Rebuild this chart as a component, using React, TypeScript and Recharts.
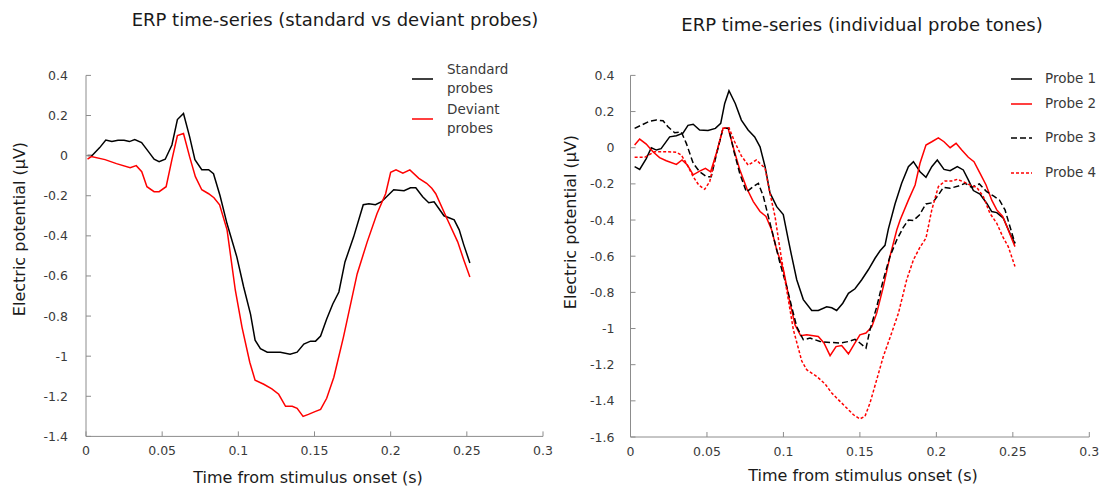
import { LineChart, Line, XAxis, YAxis } from 'recharts';

// ---- axis ticks ----
const timeTicks = [0, 0.05, 0.1, 0.15, 0.2, 0.25, 0.3];
const groupTicks = [-1.4, -1.2, -1, -0.8, -0.6, -0.4, -0.2, 0, 0.2, 0.4];
const probeTicks = [-1.6, -1.4, -1.2, -1, -0.8, -0.6, -0.4, -0.2, 0, 0.2, 0.4];

// ---- standard vs deviant (s, µV) ----
const standardT = [0.001, 0.004, 0.009, 0.013, 0.017, 0.021, 0.025, 0.0285, 0.032, 0.0365, 0.041, 0.0447, 0.048, 0.052, 0.0564, 0.06, 0.064, 0.068, 0.0715, 0.076, 0.0805, 0.0837, 0.088, 0.0926, 0.099, 0.1035, 0.108, 0.111, 0.1145, 0.119, 0.1276, 0.134, 0.1386, 0.143, 0.1474, 0.1507, 0.154, 0.158, 0.162, 0.166, 0.17, 0.1757, 0.182, 0.1857, 0.19, 0.194, 0.202, 0.2088, 0.213, 0.2165, 0.221, 0.225, 0.2285, 0.235, 0.2417, 0.245, 0.248, 0.252];
const standardV = [0, 0, 0.04, 0.078, 0.07, 0.077, 0.077, 0.07, 0.08, 0.065, 0.02, -0.018, -0.03, -0.018, 0.053, 0.18, 0.21, 0.095, -0.02, -0.07, -0.07, -0.09, -0.2, -0.34, -0.505, -0.655, -0.79, -0.92, -0.963, -0.98, -0.98, -0.99, -0.98, -0.94, -0.925, -0.925, -0.9, -0.815, -0.74, -0.68, -0.53, -0.405, -0.245, -0.24, -0.245, -0.23, -0.17, -0.175, -0.16, -0.16, -0.205, -0.235, -0.23, -0.3, -0.32, -0.37, -0.445, -0.535];

const deviantT = [0.001, 0.0035, 0.0125, 0.02, 0.029, 0.033, 0.0366, 0.04, 0.0447, 0.048, 0.0526, 0.0564, 0.06, 0.064, 0.068, 0.0718, 0.076, 0.0805, 0.084, 0.0877, 0.0926, 0.098, 0.1024, 0.1075, 0.111, 0.1167, 0.122, 0.1265, 0.131, 0.1354, 0.1386, 0.1425, 0.146, 0.1507, 0.154, 0.158, 0.1627, 0.169, 0.178, 0.1846, 0.191, 0.1967, 0.2, 0.2035, 0.208, 0.2126, 0.2185, 0.2236, 0.227, 0.2296, 0.2373, 0.244, 0.248, 0.252];
const deviantV = [-0.018, -0.005, -0.02, -0.04, -0.06, -0.05, -0.08, -0.155, -0.18, -0.18, -0.155, -0.02, 0.1, 0.11, -0.005, -0.105, -0.17, -0.19, -0.21, -0.245, -0.37, -0.67, -0.855, -1.03, -1.12, -1.14, -1.163, -1.19, -1.25, -1.25, -1.26, -1.3, -1.29, -1.275, -1.265, -1.21, -1.105, -0.905, -0.59, -0.43, -0.29, -0.19, -0.083, -0.071, -0.088, -0.071, -0.113, -0.138, -0.163, -0.19, -0.32, -0.43, -0.52, -0.605];

// ---- individual probe tones (s, µV) ----
const probe1T = [0.0027, 0.006, 0.0103, 0.0136, 0.0169, 0.02, 0.0256, 0.03, 0.0343, 0.0376, 0.041, 0.0452, 0.0507, 0.0555, 0.059, 0.0616, 0.0644, 0.0685, 0.0725, 0.0769, 0.0812, 0.0847, 0.088, 0.0912, 0.0956, 0.0999, 0.1032, 0.1054, 0.1087, 0.113, 0.1185, 0.1228, 0.1283, 0.1316, 0.1348, 0.1388, 0.1425, 0.1468, 0.1512, 0.1555, 0.16, 0.1632, 0.1664, 0.1686, 0.173, 0.1773, 0.1817, 0.185, 0.1893, 0.1932, 0.197, 0.2006, 0.205, 0.209, 0.2137, 0.2176, 0.2209, 0.2242, 0.2285, 0.2329, 0.2362, 0.2395, 0.2438, 0.2481, 0.2514];
const probe1V = [-0.105, -0.12, -0.06, 0, -0.013, -0.005, 0.06, 0.066, 0.08, 0.124, 0.13, 0.098, 0.095, 0.107, 0.135, 0.245, 0.315, 0.245, 0.153, 0.098, 0.06, 0.005, -0.105, -0.25, -0.326, -0.37, -0.51, -0.6, -0.73, -0.84, -0.9, -0.9, -0.88, -0.885, -0.9, -0.86, -0.805, -0.78, -0.73, -0.675, -0.61, -0.57, -0.54, -0.45, -0.31, -0.197, -0.105, -0.077, -0.133, -0.164, -0.105, -0.068, -0.12, -0.127, -0.105, -0.123, -0.178, -0.237, -0.256, -0.307, -0.353, -0.359, -0.39, -0.473, -0.53];

const probe2T = [0.0027, 0.006, 0.0103, 0.0147, 0.019, 0.0234, 0.03, 0.0337, 0.0372, 0.041, 0.0452, 0.049, 0.0524, 0.0568, 0.0605, 0.0638, 0.0677, 0.0714, 0.076, 0.0803, 0.0847, 0.0886, 0.0923, 0.0956, 0.1, 0.1043, 0.1076, 0.1113, 0.1152, 0.1228, 0.1265, 0.1305, 0.1344, 0.1381, 0.1425, 0.1468, 0.15, 0.154, 0.1578, 0.161, 0.1653, 0.1697, 0.1741, 0.1763, 0.1817, 0.1861, 0.1893, 0.1932, 0.197, 0.2013, 0.205, 0.209, 0.2129, 0.2166, 0.2209, 0.2246, 0.2285, 0.2325, 0.2362, 0.2395, 0.2434, 0.247, 0.2514];
const probe2V = [0.015, 0.048, 0.02, -0.022, -0.055, -0.072, -0.092, -0.068, -0.096, -0.15, -0.129, -0.114, -0.133, -0.013, 0.107, 0.107, -0.013, -0.12, -0.224, -0.298, -0.353, -0.38, -0.455, -0.565, -0.675, -0.86, -0.98, -1.04, -1.035, -1.044, -1.08, -1.15, -1.1, -1.094, -1.14, -1.08, -1.035, -1.025, -0.99, -0.915, -0.77, -0.6, -0.455, -0.4, -0.29, -0.206, -0.086, 0.015, 0.033, 0.055, 0.033, 0, 0.024, -0.013, -0.053, -0.077, -0.141, -0.206, -0.29, -0.344, -0.38, -0.455, -0.547];

const probe3T = [0.0027, 0.0071, 0.0126, 0.0169, 0.0213, 0.0245, 0.0289, 0.0332, 0.0365, 0.041, 0.0452, 0.0496, 0.0528, 0.0561, 0.0605, 0.0642, 0.0677, 0.0714, 0.0758, 0.0803, 0.0836, 0.0869, 0.0901, 0.0934, 0.0978, 0.1022, 0.1054, 0.1087, 0.113, 0.1174, 0.124, 0.1305, 0.137, 0.1425, 0.1468, 0.15, 0.154, 0.1566, 0.161, 0.1653, 0.1697, 0.1741, 0.1784, 0.1817, 0.185, 0.1889, 0.1932, 0.1976, 0.2013, 0.2046, 0.209, 0.2144, 0.2188, 0.2231, 0.2281, 0.2329, 0.2373, 0.2412, 0.2449, 0.2481, 0.2514];
const probe3V = [0.107, 0.125, 0.147, 0.153, 0.149, 0.116, 0.083, 0.088, 0.024, -0.086, -0.133, -0.16, -0.16, -0.04, 0.107, 0.107, -0.022, -0.141, -0.245, -0.215, -0.197, -0.27, -0.38, -0.49, -0.64, -0.77, -0.88, -0.99, -1.062, -1.053, -1.072, -1.077, -1.08, -1.072, -1.06, -1.08, -1.108, -1.007, -0.88, -0.73, -0.6, -0.51, -0.44, -0.4, -0.403, -0.372, -0.311, -0.304, -0.261, -0.219, -0.224, -0.212, -0.197, -0.219, -0.2, -0.243, -0.267, -0.289, -0.344, -0.436, -0.528];

const probe4T = [0.0027, 0.0093, 0.0158, 0.0224, 0.03, 0.0332, 0.0365, 0.041, 0.0446, 0.0485, 0.0518, 0.0561, 0.0605, 0.0644, 0.0681, 0.0725, 0.0769, 0.0823, 0.088, 0.0912, 0.0945, 0.0978, 0.101, 0.1065, 0.112, 0.1152, 0.1218, 0.1272, 0.1316, 0.137, 0.1414, 0.1458, 0.15, 0.1533, 0.1566, 0.161, 0.1653, 0.1697, 0.1752, 0.1806, 0.185, 0.1893, 0.1932, 0.197, 0.2013, 0.2057, 0.21, 0.2137, 0.2176, 0.222, 0.2264, 0.2307, 0.235, 0.2395, 0.2434, 0.247, 0.2514];
const probe4V = [-0.053, -0.053, -0.022, -0.022, -0.025, -0.04, -0.086, -0.16, -0.206, -0.23, -0.188, -0.031, 0.107, 0.11, 0.033, -0.045, -0.096, -0.068, -0.114, -0.252, -0.38, -0.565, -0.73, -1.007, -1.18, -1.228, -1.265, -1.306, -1.357, -1.403, -1.44, -1.477, -1.5, -1.486, -1.412, -1.283, -1.155, -1.05, -0.915, -0.73, -0.62, -0.55, -0.5, -0.344, -0.215, -0.184, -0.184, -0.175, -0.188, -0.206, -0.219, -0.27, -0.363, -0.418, -0.492, -0.547, -0.657];

const FONT = '"DejaVu Sans", Verdana, sans-serif';
const AXIS_GREY = '#8c8c8c';
const TICK_TEXT = '#3a3a3a';
const RED = '#ff0000';

const zip = (t: number[], v: number[]) => t.map((x, i) => ({ t: x, v: v[i] }));
const fmt = (n: number) => String(parseFloat(n.toFixed(2)));

type Series = { name: string[]; t: number[]; v: number[]; color: string; dash?: string };

const groupSeries: Series[] = [
  { name: ['Standard', 'probes'], t: standardT, v: standardV, color: '#000' },
  { name: ['Deviant', 'probes'], t: deviantT, v: deviantV, color: RED },
];

const probeSeries: Series[] = [
  { name: ['Probe 1'], t: probe1T, v: probe1V, color: '#000' },
  { name: ['Probe 2'], t: probe2T, v: probe2V, color: RED },
  { name: ['Probe 3'], t: probe3T, v: probe3V, color: '#000', dash: '6 3' },
  { name: ['Probe 4'], t: probe4T, v: probe4V, color: RED, dash: '3 2' },
];

// inward tick marks, labels outside the axis
const yTick = (gap: number) => (props: any) => {
  const { x, y, payload } = props;
  return (
    <g>
      <line x1={x} x2={x + 5} y1={y} y2={y} stroke={AXIS_GREY} />
      <text x={x - gap} y={y} dy={4.5} textAnchor="end" fill={TICK_TEXT} style={{ fontFamily: FONT, fontSize: 12.5 }}>
        {fmt(payload.value)}
      </text>
    </g>
  );
};

const xTick = (props: any) => {
  const { x, y, payload } = props;
  return (
    <g>
      <line x1={x} x2={x} y1={y} y2={y - 5} stroke={AXIS_GREY} />
      <text x={x} y={y + 19} textAnchor="middle" fill={TICK_TEXT} style={{ fontFamily: FONT, fontSize: 12.5 }}>
        {fmt(payload.value)}
      </text>
    </g>
  );
};

type PanelProps = {
  left: number;
  width: number;
  yAxisWidth: number;
  right: number;
  bottomAxis: number;
  yDomain: [number, number];
  yTicks: number[];
  labelGap: number;
  series: Series[];
};

function Panel({ left, width, yAxisWidth, right, bottomAxis, yDomain, yTicks, labelGap, series }: PanelProps) {
  return (
    <div style={{ position: 'absolute', left, top: 0 }}>
      <LineChart width={width} height={488} margin={{ top: 75.4, right, bottom: 0, left: 0 }} style={{ overflow: 'visible' }}>
        <XAxis
          dataKey="t"
          type="number"
          domain={[0, 0.3]}
          ticks={timeTicks}
          interval={0}
          height={bottomAxis}
          tickSize={0}
          tickMargin={0}
          tickLine={false}
          axisLine={{ stroke: AXIS_GREY }}
          tick={xTick}
        />
        <YAxis
          type="number"
          domain={yDomain}
          ticks={yTicks}
          interval={0}
          width={yAxisWidth}
          tickSize={0}
          tickMargin={0}
          tickLine={false}
          axisLine={{ stroke: AXIS_GREY }}
          tick={yTick(labelGap)}
        />
        {series.map((s) => (
          <Line
            key={s.name.join(' ')}
            data={zip(s.t, s.v)}
            dataKey="v"
            type="linear"
            stroke={s.color}
            strokeWidth={1.5}
            strokeDasharray={s.dash}
            dot={false}
            activeDot={false}
            isAnimationActive={false}
          />
        ))}
      </LineChart>
    </div>
  );
}

function LegendSample({ color, dash }: { color: string; dash?: string }) {
  return (
    <svg width={21} height={4} style={{ display: 'block' }}>
      <line x1={0} x2={21} y1={2} y2={2} stroke={color} strokeWidth={1.5} strokeDasharray={dash} />
    </svg>
  );
}

const text = (size: number, color: string): React.CSSProperties => ({
  position: 'absolute',
  fontFamily: FONT,
  fontSize: size,
  color,
  whiteSpace: 'nowrap',
  lineHeight: 1,
});

const probeRowY = [79, 104, 138, 173];

export default function App() {
  return (
    <div style={{ position: 'absolute', left: 0, top: 0, width: 1102, height: 488, background: '#fff', overflow: 'hidden' }}>
      <Panel
        left={0}
        width={560}
        yAxisWidth={86}
        right={17}
        bottomAxis={51.6}
        yDomain={[-1.4, 0.4]}
        yTicks={groupTicks}
        labelGap={18}
        series={groupSeries}
      />
      <Panel
        left={551}
        width={551}
        yAxisWidth={79.5}
        right={12.7}
        bottomAxis={51}
        yDomain={[-1.6, 0.4]}
        yTicks={probeTicks}
        labelGap={16}
        series={probeSeries}
      />

      {/* titles */}
      <div style={{ ...text(18, '#1a1a1a'), left: 335, top: 20, transform: 'translate(-50%, -50%)' }}>
        ERP time-series (standard vs deviant probes)
      </div>
      <div style={{ ...text(18, '#1a1a1a'), left: 862, top: 25, transform: 'translate(-50%, -50%)' }}>
        ERP time-series (individual probe tones)
      </div>

      {/* axis titles */}
      <div style={{ ...text(16, '#1a1a1a'), left: 308, top: 478, transform: 'translate(-50%, -50%)' }}>
        Time from stimulus onset (s)
      </div>
      <div style={{ ...text(16, '#1a1a1a'), left: 863, top: 476, transform: 'translate(-50%, -50%)' }}>
        Time from stimulus onset (s)
      </div>
      <div style={{ ...text(16, '#1a1a1a'), left: 20, top: 229, transform: 'translate(-50%, -50%) rotate(-90deg)' }}>
        Electric potential (μV)
      </div>
      <div style={{ ...text(16, '#1a1a1a'), left: 571, top: 222, transform: 'translate(-50%, -50%) rotate(-90deg)' }}>
        Electric potential (μV)
      </div>

      {/* legend: standard vs deviant */}
      {groupSeries.map((s, i) => (
        <div key={s.name.join(' ')}>
          <div style={{ position: 'absolute', left: 412, top: 79.3 + i * 39.5 - 2 }}>
            <LegendSample color={s.color} dash={s.dash} />
          </div>
          {s.name.map((line, j) => (
            <div key={line} style={{ ...text(13.5, TICK_TEXT), left: 447, top: 70 + i * 39.5 + j * 19.3, transform: 'translateY(-50%)' }}>
              {line}
            </div>
          ))}
        </div>
      ))}

      {/* legend: probe tones */}
      {probeSeries.map((s, i) => (
        <div key={s.name[0]}>
          <div style={{ position: 'absolute', left: 1011, top: probeRowY[i] - 2 }}>
            <LegendSample color={s.color} dash={s.dash} />
          </div>
          <div style={{ ...text(13.5, TICK_TEXT), left: 1045, top: probeRowY[i], transform: 'translateY(-50%)' }}>
            {s.name[0]}
          </div>
        </div>
      ))}
    </div>
  );
}
